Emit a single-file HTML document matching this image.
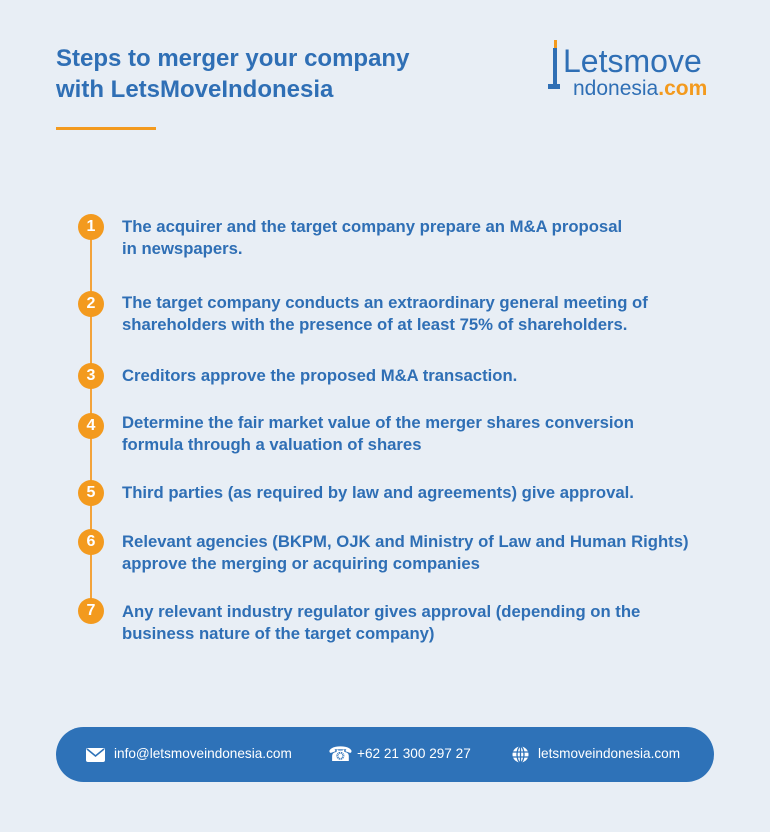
<!DOCTYPE html>
<html><head><style>
body{margin:0;width:770px;height:832px;background:#e8eef5;font-family:"Liberation Sans",sans-serif;position:relative;overflow:hidden}
.t{position:absolute;left:56px;top:43px;font-size:24px;font-weight:bold;color:#2f6fb5;line-height:31px}
.bar{position:absolute;left:56px;top:127px;width:100px;height:3px;background:#f39a1e}
.line{position:absolute;left:90px;top:227px;width:2px;height:385px;background:#f3a33a}
.c{position:absolute;left:78px;width:26px;height:26px;border-radius:50%;background:#f39a1e;color:#fff;font-weight:bold;font-size:16px;text-align:center;line-height:26px}
.s{position:absolute;left:122px;font-size:16.7px;font-weight:bold;color:#2f6fb5;line-height:22px}
.foot{position:absolute;left:56px;top:727px;width:658px;height:55px;border-radius:28px;background:#2e72b8;color:#fff;font-size:13.6px}
.foot span{position:absolute;top:19px}
</style></head><body>
<div class="t">Steps to merger your company<br>with LetsMoveIndonesia</div>
<div class="bar"></div>
<div style="position:absolute;left:548px;top:40px;width:12px;height:50px">
<div style="position:absolute;left:6px;top:0;width:3px;height:8px;background:#f39a1e"></div>
<div style="position:absolute;left:5px;top:8px;width:4px;height:38px;background:#2f6fb5"></div>
<div style="position:absolute;left:0;top:44px;width:12px;height:5px;background:#2f6fb5"></div></div>
<div style="position:absolute;left:563px;top:44px;font-size:32px;color:#2f6fb5;line-height:34px">Letsmove</div>
<div style="position:absolute;left:573px;top:77px;font-size:21px;color:#2f6fb5;line-height:24px">ndonesia<b style="color:#f39a1e">.com</b></div>
<div class="line"></div>
<div class="c" style="top:214px">1</div>
<div class="c" style="top:291px">2</div>
<div class="c" style="top:363px">3</div>
<div class="c" style="top:413px">4</div>
<div class="c" style="top:480px">5</div>
<div class="c" style="top:529px">6</div>
<div class="c" style="top:598px">7</div>
<div class="s" style="top:216px">The acquirer and the target company prepare an M&amp;A proposal<br>in newspapers.</div>
<div class="s" style="top:292px">The target company conducts an extraordinary general meeting of<br>shareholders with the presence of at least 75% of shareholders.</div>
<div class="s" style="top:365px">Creditors approve the proposed M&amp;A transaction.</div>
<div class="s" style="top:412px">Determine the fair market value of the merger shares conversion<br>formula through a valuation of shares</div>
<div class="s" style="top:482px">Third parties (as required by law and agreements) give approval.</div>
<div class="s" style="top:531px">Relevant agencies (BKPM, OJK and Ministry of Law and Human Rights)<br>approve the merging or acquiring companies</div>
<div class="s" style="top:601px">Any relevant industry regulator gives approval (depending on the<br>business nature of the target company)</div>
<div class="foot">
<svg style="position:absolute;left:30px;top:21px" width="19" height="14"><rect width="19" height="14" rx="2" fill="#fff"/><path d="M1 1 L9.5 8 L18 1" stroke="#2e72b8" stroke-width="1.6" fill="none"/></svg>
<span style="left:58px">info@letsmoveindonesia.com</span>
<span style="left:272px;top:15px;font-size:20px">☎</span>
<span style="left:301px">+62 21 300 297 27</span>
<svg style="position:absolute;left:456px;top:19px" width="17" height="17"><circle cx="8.5" cy="8.5" r="8" fill="#fff"/><g stroke="#2e72b8" stroke-width="1.3" fill="none"><ellipse cx="8.5" cy="8.5" rx="3.5" ry="8"/><line x1="8.5" y1="0" x2="8.5" y2="17"/><line x1="0" y1="6" x2="17" y2="6"/><line x1="0" y1="11" x2="17" y2="11"/></g></svg>
<span style="left:482px">letsmoveindonesia.com</span>
</div>
</body></html>
